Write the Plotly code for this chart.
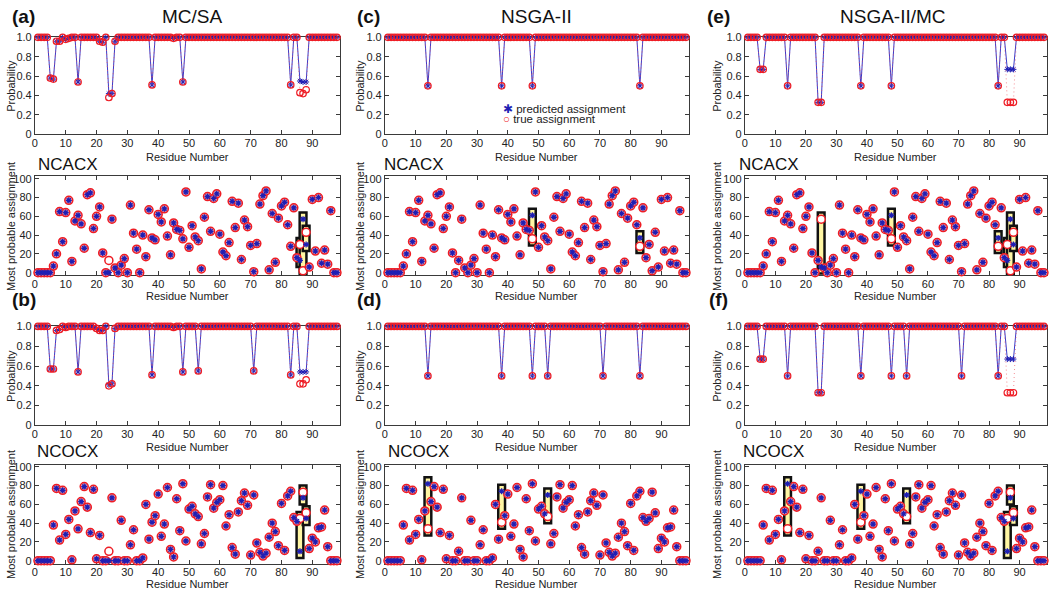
import plotly.graph_objects as go

# ---------------- data ----------------
residues = list(range(1, 99))
x_tick_vals = [0, 10, 20, 30, 40, 50, 60, 70, 80, 90]
prob_tick_vals = [0, 0.2, 0.4, 0.6, 0.8, 1.0]
prob_tick_text = ["0", "0.2", "0.4", "0.6", "0.8", "1.0"]
assign_tick_vals = [0, 20, 40, 60, 80, 100]

ncacx_true = [0, 0, 0, 0, 0, 7, 20, 65, 33, 64,
              77, 12, 55, 61, 52, 26, 83, 85, 47, 60,
              70, 21, 0, 13, 57, 5, 0, 8, 15, 0,
              72, 42, 25, 0, 40, 17, 67, 37, 35, 62,
              54, 68, 39, 19, 53, 46, 45, 36, 86, 27,
              50, 38, 34, 4, 59, 81, 44, 79, 84, 41,
              22, 18, 32, 76, 48, 74, 14, 56, 49, 29,
              1, 31, 73, 82, 87, 3, 63, 11, 58, 71,
              75, 51, 28, 69, 16, 30, 2, 43, 6, 78,
              23, 80, 10, 24, 9, 66, 0, 0]

ncocx_true = [0, 0, 0, 0, 0, 38, 77, 22, 75, 28,
              44, 1, 53, 34, 63, 79, 57, 30, 76, 2,
              27, 0, 0, 10, 67, 0, 0, 43, 0, 0,
              17, 33, 0, 0, 3, 60, 23, 41, 48, 71,
              26, 39, 78, 12, 4, 66, 32, 82, 21, 55,
              58, 50, 47, 18, 29, 68, 81, 56, 62, 65,
              80, 37, 49, 14, 7, 52, 64, 72, 59, 6,
              70, 19, 9, 5, 8, 25, 40, 31, 16, 61,
              11, 69, 74, 46, 42, 45, 73, 51, 13, 24,
              20, 35, 36, 54, 15, 0, 0, 0]

# predicted assignments that differ from the true ones (residue: predicted)
ncacx_wrong_a = {24: 0, 86: 13, 87: 57, 88: 30}
ncacx_wrong_c = {48: 61, 83: 37}
ncacx_wrong_e = {25: 6, 48: 61, 83: 37, 86: 13, 87: 57, 88: 30}
ncocx_wrong_b = {24: 0, 86: 10, 87: 67, 88: 45}
ncocx_wrong_d = {14: 82, 38: 74, 53: 70}
ncocx_wrong_f = {14: 82, 38: 74, 53: 70, 86: 10, 87: 67, 88: 45}

# highlighted (boxed) residues
boxes_a = [86, 87, 88]
boxes_b = [86, 87, 88]
boxes_c = [48, 83]
boxes_d = [14, 38, 53]
boxes_e = [25, 48, 83, 86, 87, 88]
boxes_f = [14, 38, 53, 86, 87, 88]

# probability of predicted assignment / of true assignment (residues 1..98)
prob_a_pred = [1, 1, 1, 1, .58, .57, .96, .96, 1, .98,
               .99, 1, 1, .54, 1, 1, 1, 1, 1, 1,
               .96, .95, 1, .42, .42, .96, 1, 1, 1, 1,
               1, 1, 1, 1, 1, 1, 1, .51, 1, 1,
               1, 1, 1, 1, .99, 1, 1, .54, 1, 1,
               1, 1, 1, 1, 1, 1, 1, 1, 1, 1,
               1, 1, 1, 1, 1, 1, 1, 1, 1, 1,
               1, 1, 1, 1, 1, 1, 1, 1, 1, 1,
               1, 1, .51, 1, 1, .55, .54, .54, 1, 1,
               1, 1, 1, 1, 1, 1, 1, 1]
prob_a_true = [1, 1, 1, 1, .58, .57, .96, .96, 1, .98,
               .99, 1, 1, .54, 1, 1, 1, 1, 1, 1,
               .96, .95, 1, .38, .42, .96, 1, 1, 1, 1,
               1, 1, 1, 1, 1, 1, 1, .51, 1, 1,
               1, 1, 1, 1, .99, 1, 1, .54, 1, 1,
               1, 1, 1, 1, 1, 1, 1, 1, 1, 1,
               1, 1, 1, 1, 1, 1, 1, 1, 1, 1,
               1, 1, 1, 1, 1, 1, 1, 1, 1, 1,
               1, 1, .51, 1, 1, .43, .42, .46, 1, 1,
               1, 1, 1, 1, 1, 1, 1, 1]
prob_b_pred = [1, 1, 1, 1, .57, .57, .96, .97, 1, .99,
               1, 1, 1, .54, 1, 1, 1, 1, 1, .98,
               .96, .96, 1, .41, .42, .98, 1, 1, 1, 1,
               1, 1, 1, 1, 1, 1, 1, .51, 1, 1,
               1, 1, 1, 1, .99, 1, 1, .54, 1, 1,
               1, 1, .55, 1, 1, 1, 1, 1, 1, 1,
               1, 1, 1, 1, 1, 1, 1, 1, 1, 1,
               .55, 1, 1, 1, 1, 1, 1, 1, 1, 1,
               1, 1, .51, 1, 1, .54, .54, .54, 1, 1,
               1, 1, 1, 1, 1, 1, 1, 1]
prob_b_true = [1, 1, 1, 1, .57, .57, .96, .97, 1, .99,
               1, 1, 1, .54, 1, 1, 1, 1, 1, .98,
               .96, .96, 1, .40, .42, .98, 1, 1, 1, 1,
               1, 1, 1, 1, 1, 1, 1, .51, 1, 1,
               1, 1, 1, 1, .99, 1, 1, .54, 1, 1,
               1, 1, .55, 1, 1, 1, 1, 1, 1, 1,
               1, 1, 1, 1, 1, 1, 1, 1, 1, 1,
               .55, 1, 1, 1, 1, 1, 1, 1, 1, 1,
               1, 1, .51, 1, 1, .42, .42, .46, 1, 1,
               1, 1, 1, 1, 1, 1, 1, 1]
prob_c = [1, 1, 1, 1, 1, 1, 1, 1, 1, 1,
          1, 1, 1, .5, 1, 1, 1, 1, 1, 1,
          1, 1, 1, 1, 1, 1, 1, 1, 1, 1,
          1, 1, 1, 1, 1, 1, 1, .5, 1, 1,
          1, 1, 1, 1, 1, 1, 1, .5, 1, 1,
          1, 1, 1, 1, 1, 1, 1, 1, 1, 1,
          1, 1, 1, 1, 1, 1, 1, 1, 1, 1,
          1, 1, 1, 1, 1, 1, 1, 1, 1, 1,
          1, 1, .5, 1, 1, 1, 1, 1, 1, 1,
          1, 1, 1, 1, 1, 1, 1, 1]
prob_d = [1, 1, 1, 1, 1, 1, 1, 1, 1, 1,
          1, 1, 1, .5, 1, 1, 1, 1, 1, 1,
          1, 1, 1, 1, 1, 1, 1, 1, 1, 1,
          1, 1, 1, 1, 1, 1, 1, .5, 1, 1,
          1, 1, 1, 1, 1, 1, 1, .5, 1, 1,
          1, 1, .5, 1, 1, 1, 1, 1, 1, 1,
          1, 1, 1, 1, 1, 1, 1, 1, 1, 1,
          .5, 1, 1, 1, 1, 1, 1, 1, 1, 1,
          1, 1, .5, 1, 1, 1, 1, 1, 1, 1,
          1, 1, 1, 1, 1, 1, 1, 1]
prob_e_pred = [1, 1, 1, 1, .67, .67, 1, 1, 1, 1,
               1, 1, 1, .5, 1, 1, 1, 1, 1, 1,
               1, 1, 1, .33, .33, 1, 1, 1, 1, 1,
               1, 1, 1, 1, 1, 1, 1, .5, 1, 1,
               1, 1, 1, 1, 1, 1, 1, .5, 1, 1,
               1, 1, 1, 1, 1, 1, 1, 1, 1, 1,
               1, 1, 1, 1, 1, 1, 1, 1, 1, 1,
               1, 1, 1, 1, 1, 1, 1, 1, 1, 1,
               1, 1, .5, 1, 1, .67, .67, .67, 1, 1,
               1, 1, 1, 1, 1, 1, 1, 1]
prob_e_true = [1, 1, 1, 1, .67, .67, 1, 1, 1, 1,
               1, 1, 1, .5, 1, 1, 1, 1, 1, 1,
               1, 1, 1, .33, .33, 1, 1, 1, 1, 1,
               1, 1, 1, 1, 1, 1, 1, .5, 1, 1,
               1, 1, 1, 1, 1, 1, 1, .5, 1, 1,
               1, 1, 1, 1, 1, 1, 1, 1, 1, 1,
               1, 1, 1, 1, 1, 1, 1, 1, 1, 1,
               1, 1, 1, 1, 1, 1, 1, 1, 1, 1,
               1, 1, .5, 1, 1, .33, .33, .33, 1, 1,
               1, 1, 1, 1, 1, 1, 1, 1]
prob_f_pred = [1, 1, 1, 1, .67, .67, 1, 1, 1, 1,
               1, 1, 1, .5, 1, 1, 1, 1, 1, 1,
               1, 1, 1, .33, .33, 1, 1, 1, 1, 1,
               1, 1, 1, 1, 1, 1, 1, .5, 1, 1,
               1, 1, 1, 1, 1, 1, 1, .5, 1, 1,
               1, 1, .5, 1, 1, 1, 1, 1, 1, 1,
               1, 1, 1, 1, 1, 1, 1, 1, 1, 1,
               .5, 1, 1, 1, 1, 1, 1, 1, 1, 1,
               1, 1, .5, 1, 1, .67, .67, .67, 1, 1,
               1, 1, 1, 1, 1, 1, 1, 1]
prob_f_true = [1, 1, 1, 1, .67, .67, 1, 1, 1, 1,
               1, 1, 1, .5, 1, 1, 1, 1, 1, 1,
               1, 1, 1, .33, .33, 1, 1, 1, 1, 1,
               1, 1, 1, 1, 1, 1, 1, .5, 1, 1,
               1, 1, 1, 1, 1, 1, 1, .5, 1, 1,
               1, 1, .5, 1, 1, 1, 1, 1, 1, 1,
               1, 1, 1, 1, 1, 1, 1, 1, 1, 1,
               .5, 1, 1, 1, 1, 1, 1, 1, 1, 1,
               1, 1, .5, 1, 1, .33, .33, .33, 1, 1,
               1, 1, 1, 1, 1, 1, 1, 1]

column_titles = ["MC/SA", "NSGA-II", "NSGA-II/MC"]
panel_letters_top = ["(a)", "(c)", "(e)"]
panel_letters_bottom = ["(b)", "(d)", "(f)"]
experiment_names = ["NCACX", "NCOCX"]

# ---------------- layout geometry (pixels) ----------------
W, H = 1050, 596
col_px = [(32, 338), (383, 688), (744, 1047)]
row_px = [(32, 131), (174, 275), (327, 428), (468, 569)]
title_y_px = [154, 296, 450, 590]

FONT = "Liberation Sans, Arial, Helvetica, sans-serif"
BLUE = "#1f1fb4"
RED = "#ee1c24"
PINK = "#f6a3a8"
AXC = "#3a3a3a"


def predicted(true_vals, wrong):
    return [wrong.get(r, v) for r, v in zip(residues, true_vals)]


panels = []
prob_sets = [
    (prob_a_pred, prob_a_true), (prob_c, prob_c), (prob_e_pred, prob_e_true),
    (prob_b_pred, prob_b_true), (prob_d, prob_d), (prob_f_pred, prob_f_true),
]
scat_sets = [
    (ncacx_true, ncacx_wrong_a, boxes_a), (ncacx_true, ncacx_wrong_c, boxes_c),
    (ncacx_true, ncacx_wrong_e, boxes_e),
    (ncocx_true, ncocx_wrong_b, boxes_b), (ncocx_true, ncocx_wrong_d, boxes_d),
    (ncocx_true, ncocx_wrong_f, boxes_f),
]
for block in range(2):
    for c in range(3):
        panels.append(dict(kind="prob", row=2 * block, col=c, data=prob_sets[3 * block + c]))
    for c in range(3):
        panels.append(dict(kind="scat", row=2 * block + 1, col=c, data=scat_sets[3 * block + c]))

fig = go.Figure()
layout = dict(
    width=W, height=H, margin=dict(l=0, r=0, t=0, b=0),
    paper_bgcolor="white", plot_bgcolor="white",
    font=dict(family=FONT, size=11, color="#222"),
    showlegend=False,
)
shapes = []
annotations = []

for i, p in enumerate(panels, start=1):
    xa = "x" if i == 1 else f"x{i}"
    ya = "y" if i == 1 else f"y{i}"
    x0, x1 = col_px[p["col"]]
    y0, y1 = row_px[p["row"]]
    common = dict(showline=True, linecolor=AXC, linewidth=1, mirror="ticks",
                  ticks="inside", ticklen=4, tickwidth=1, tickcolor=AXC,
                  showgrid=False, zeroline=False, layer="below traces",
                  tickfont=dict(size=11, color="#222"))
    layout[f"xaxis{'' if i == 1 else i}"] = dict(
        domain=[x0 / W, x1 / W], anchor=ya, range=[0, 99],
        tickvals=x_tick_vals, ticklabelstandoff=-2, **common)
    if p["kind"] == "prob":
        layout[f"yaxis{'' if i == 1 else i}"] = dict(
            domain=[1 - y1 / H, 1 - y0 / H], anchor=xa, range=[0, 1],
            tickvals=prob_tick_vals, ticktext=prob_tick_text, **common)
        pred_p, true_p = p["data"]
        fig.add_trace(go.Scatter(
            x=residues, y=pred_p, mode="lines+markers", xaxis=xa, yaxis=ya,
            line=dict(color="#3a3ac8", width=1),
            marker=dict(symbol="asterisk-open", size=5, color=BLUE, line=dict(width=1, color=BLUE)),
            cliponaxis=False, hoverinfo="skip"))
        fig.add_trace(go.Scatter(
            x=residues, y=true_p, mode="lines+markers", xaxis=xa, yaxis=ya,
            line=dict(color="rgba(240,80,90,0.65)", width=1, dash="1px,3px"),
            marker=dict(symbol="circle-open", size=6.5, color=RED, line=dict(width=1.2, color=RED)),
            cliponaxis=False, hoverinfo="skip"))
    else:
        layout[f"yaxis{'' if i == 1 else i}"] = dict(
            domain=[1 - y1 / H, 1 - y0 / H], anchor=xa, range=[-3, 102.4],
            tickvals=assign_tick_vals, **common)
        true_v, wrong, boxes = p["data"]
        pred_v = predicted(true_v, wrong)
        for r in boxes:
            k = residues.index(r)
            lo = min(pred_v[k], true_v[k]) - 7
            hi = max(pred_v[k], true_v[k]) + 7
            shapes.append(dict(type="rect", xref=xa, yref=ya, x0=r - 1.1, x1=r + 1.1,
                               y0=lo, y1=hi, fillcolor="#fff6a3",
                               line=dict(color="#111", width=2.5), layer="below"))
        fills = [PINK if a == b else "white" for a, b in zip(pred_v, true_v)]
        fig.add_trace(go.Scatter(
            x=residues, y=true_v, mode="markers", xaxis=xa, yaxis=ya,
            marker=dict(symbol="circle", size=8, color=fills, line=dict(width=1.5, color=RED)),
            cliponaxis=False, hoverinfo="skip"))
        fig.add_trace(go.Scatter(
            x=residues, y=pred_v, mode="markers", xaxis=xa, yaxis=ya,
            marker=dict(symbol="asterisk-open", size=5, color=BLUE, line=dict(width=1.3, color=BLUE)),
            cliponaxis=False, hoverinfo="skip"))

    # axis titles
    cx = (x0 + x1) / 2
    title_y = title_y_px[p["row"]]
    annotations.append(dict(text="Residue Number", x=cx / W, y=1 - title_y / H,
                            xref="paper", yref="paper", showarrow=False,
                            xanchor="center", yanchor="middle", font=dict(size=11)))
    ylab_x = [8, 358, 716][p["col"]]
    annotations.append(dict(text="Probability" if p["kind"] == "prob" else "Most probable assignment",
                            x=ylab_x / W, y=1 - ((y0 + y1) / 2) / H, xref="paper", yref="paper",
                            showarrow=False, textangle=-90, xanchor="center", yanchor="middle",
                            font=dict(size=11)))

# panel letters and column titles
letter_x = [21, 367, 718]
title_x = [190, 535, 893]
for c in range(3):
    annotations.append(dict(text=f"<b>{panel_letters_top[c]}</b>", x=letter_x[c] / W, y=1 - 11 / H,
                            xref="paper", yref="paper", showarrow=False,
                            xanchor="center", yanchor="middle", font=dict(size=19, color="#111")))
    annotations.append(dict(text=column_titles[c], x=title_x[c] / W, y=1 - 11 / H,
                            xref="paper", yref="paper", showarrow=False,
                            xanchor="center", yanchor="middle", font=dict(size=19, color="#111")))
    annotations.append(dict(text=f"<b>{panel_letters_bottom[c]}</b>", x=letter_x[c] / W, y=1 - 300 / H,
                            xref="paper", yref="paper", showarrow=False,
                            xanchor="center", yanchor="middle", font=dict(size=19, color="#111")))
    # experiment names
    annotations.append(dict(text=experiment_names[0], x=[33, 380, 736][c] / W, y=1 - 162 / H,
                            xref="paper", yref="paper", showarrow=False,
                            xanchor="left", yanchor="middle", font=dict(size=17, color="#111")))
    annotations.append(dict(text=experiment_names[1], x=[32, 384, 740][c] / W, y=1 - 455 / H,
                            xref="paper", yref="paper", showarrow=False,
                            xanchor="left", yanchor="middle", font=dict(size=17, color="#111")))

# legend (panel c)
annotations.append(dict(text=f"<span style='color:{BLUE}'>✱</span> predicted assignment",
                        x=499 / W, y=1 - 105 / H, xref="paper", yref="paper", showarrow=False,
                        xanchor="left", yanchor="middle", font=dict(size=11.5)))
annotations.append(dict(text=f"<span style='color:{RED}'>○</span> true assignment",
                        x=499 / W, y=1 - 115 / H, xref="paper", yref="paper", showarrow=False,
                        xanchor="left", yanchor="middle", font=dict(size=11.5)))

layout["shapes"] = shapes
layout["annotations"] = annotations
fig.update_layout(**layout)
fig.write_html("out.html", config={"displayModeBar": False},
               post_script="document.body.style.margin='0px';")
